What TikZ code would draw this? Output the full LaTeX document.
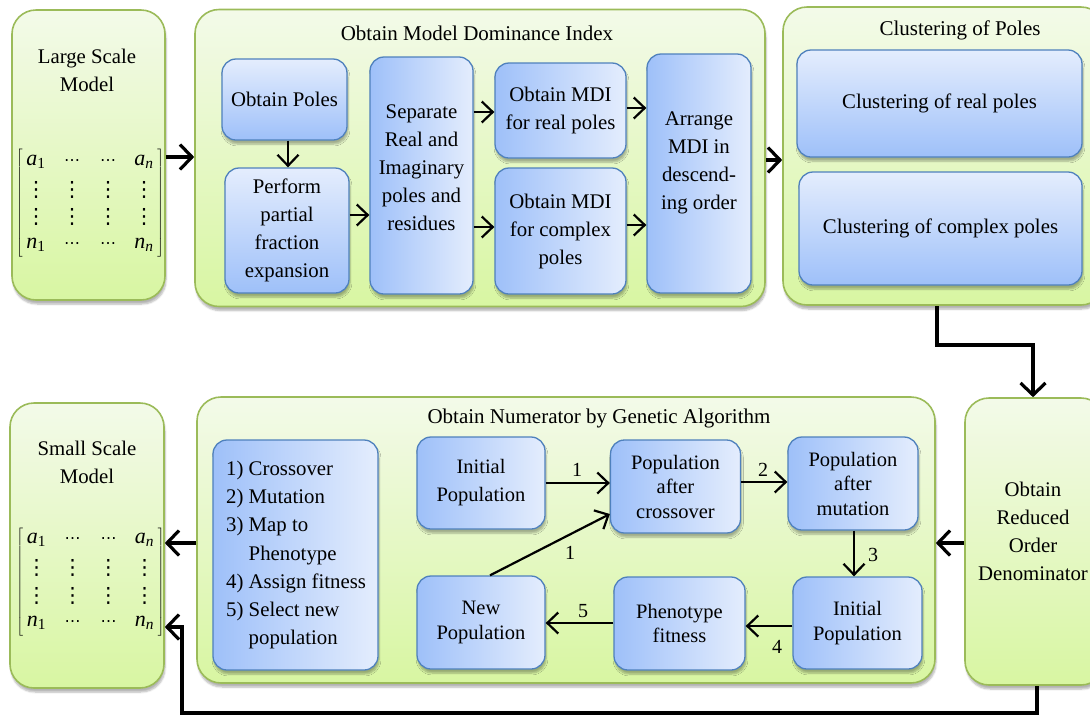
\documentclass[tikz,border=0pt]{standalone}
\usepackage{fontspec}
\setmainfont{Liberation Serif}
\newfontfamily\dejavu{DejaVu Sans}
\usetikzlibrary{arrows.meta,shadows.blur,matrix}
\definecolor{gborder}{RGB}{155,187,89}
\definecolor{gtop}{RGB}{243,250,233}
\definecolor{gbot}{RGB}{216,246,162}
\definecolor{bborder}{RGB}{79,129,189}
\definecolor{bdark}{RGB}{158,192,249}
\definecolor{blight}{RGB}{228,237,253}
\newcommand\vd{{\dejavu\fontsize{21}{21}\selectfont ⋮}}
\newcommand\hd{{\dejavu\fontsize{16}{16}\selectfont ⋯}}
\begin{document}
\begin{tikzpicture}[x=1pt,y=-1pt,
  txt/.style={font=\fontsize{20.8}{28}\selectfont, align=center},
  gatxt/.style={font=\fontsize{20.5}{24.5}\selectfont, align=center},
  shd/.style={blur shadow={shadow xshift=1pt, shadow yshift=-4pt, shadow blur steps=6, shadow opacity=30}},
  gbox/.style={draw=gborder, line width=1.6pt, rounded corners=24pt, top color=gtop, bottom color=gbot, shd, inner sep=0pt},
  bbox/.style={draw=bborder, line width=1.3pt, rounded corners=14pt, inner sep=2pt, txt, shd},
  bv/.style={bbox, top color=blight, bottom color=bdark},
  bh/.style={bbox, left color=bdark, right color=blight},
  thk/.style={line width=3.2pt, -{Straight Barb[length=12pt,width=25pt]}},
  thn/.style={line width=2.2pt, -{Straight Barb[length=11pt,width=21pt]}},
  lbl/.style={font=\fontsize{20}{24}\selectfont, inner sep=0pt},
  mat/.style={matrix of nodes, ampersand replacement=\&, left delimiter={[}, right delimiter={]},
    nodes={minimum width=24pt, minimum height=27.5pt, inner sep=0pt, font=\fontsize{22}{24}\selectfont},
    column sep=12pt, row sep=0pt, inner sep=0pt},
]
\useasboundingbox (0,0) rectangle (1090,716);

% ---------- top row ----------
\node[gbox, minimum width=153pt, minimum height=290pt] (lsm) at (88.5,155) {};
\node[txt] (lsmt) at (87,70) {Large Scale\\Model};
\matrix (lsmm) [mat] at (90,203.5) {
  \textit{a}\textsubscript{1} \& \hd \& \hd \& \textit{a}\textsubscript{\textit{n}} \\
  \vd \& \vd \& \vd \& \vd \\
  \vd \& \vd \& \vd \& \vd \\
  \textit{n}\textsubscript{1} \& \hd \& \hd \& \textit{n}\textsubscript{\textit{n}} \\
};

\node[gbox, minimum width=570pt, minimum height=297pt] (mdi) at (480,158) {};
\node[txt, font=\fontsize{21}{26}\selectfont] (mdit) at (477,33) {Obtain Model Dominance Index};
\node[bv, minimum width=125pt, minimum height=81pt] (poles) at (284.5,99.5) {Obtain Poles};
\node[bv, minimum width=124pt, minimum height=125pt] (pfe) at (287,230.5) {Perform\\partial\\fraction\\expansion};
\node[bh, minimum width=103pt, minimum height=237pt] (sep) at (421.5,175.5) {};
\node[txt] (sept) at (421.5,168) {Separate\\Real and\\Imaginary\\poles and\\residues};
\node[bh, minimum width=131pt, minimum height=95pt] (mdir) at (560.5,110.5) {Obtain MDI\\for real poles};
\node[bh, minimum width=131pt, minimum height=126pt] (mdic) at (560.5,231) {Obtain MDI\\for complex\\poles};
\node[bh, minimum width=104pt, minimum height=239pt] (arr) at (699,173.5) {};
\node[txt] (arrt) at (699,162.5) {Arrange\\MDI in\\descend-\\ing order};

\node[gbox, minimum width=322pt, minimum height=298pt] (cl) at (944,156) {};
\node[txt, font=\fontsize{21}{26}\selectfont] (clt) at (960,30) {Clustering of Poles};
\node[bv, minimum width=285pt, minimum height=107pt] (clr) at (939.5,103.5) {Clustering of real poles};
\node[bv, minimum width=283pt, minimum height=113pt] (clc) at (940.5,228.5) {Clustering of complex poles};

% ---------- bottom row ----------
\node[gbox, minimum width=154pt, minimum height=285pt] (ssm) at (87,545.5) {};
\node[txt] (ssmt) at (87,462) {Small Scale\\Model};
\matrix (ssmm) [mat] at (90.5,582) {
  \textit{a}\textsubscript{1} \& \hd \& \hd \& \textit{a}\textsubscript{\textit{n}} \\
  \vd \& \vd \& \vd \& \vd \\
  \vd \& \vd \& \vd \& \vd \\
  \textit{n}\textsubscript{1} \& \hd \& \hd \& \textit{n}\textsubscript{\textit{n}} \\
};

\node[gbox, minimum width=738pt, minimum height=286pt] (ga) at (566,540) {};
\node[txt, font=\fontsize{21}{26}\selectfont] (gat) at (599,418) {Obtain Numerator by Genetic Algorithm};
\node[bh, minimum width=165pt, minimum height=230pt] (list) at (295.5,555) {};
\node[txt, align=left, anchor=west, inner sep=0pt, font=\fontsize{20.8}{28.3}\selectfont] (listt) at (226,555)
  {1) Crossover\\2) Mutation\\3) Map to\\\hphantom{3) }Phenotype\\4) Assign fitness\\5) Select new\\\hphantom{5) }population};
\node[bh, gatxt, font=\fontsize{20.5}{28}\selectfont, minimum width=128pt, minimum height=92pt] (ip1) at (481,483) {Initial\\Population};
\node[bh, gatxt, minimum width=130pt, minimum height=93pt] (pac) at (675.5,486.5) {Population\\after\\crossover};
\node[bh, gatxt, minimum width=130pt, minimum height=93pt] (pam) at (853,483.5) {Population\\after\\mutation};
\node[bh, gatxt, minimum width=129pt, minimum height=92pt] (ip2) at (857.5,623) {Initial\\Population};
\node[bh, gatxt, minimum width=131pt, minimum height=93pt] (phf) at (679.5,623.5) {Phenotype\\fitness};
\node[bh, gatxt, minimum width=128pt, minimum height=93pt] (np) at (481,622.5) {New\\Population};

\node[gbox, minimum width=140pt, minimum height=287pt] (red) at (1035,541.5) {};
\node[txt] (redt) at (1033,531) {Obtain\\Reduced\\Order\\Denominator};

% ---------- connectors ----------
\draw[thk] (lsm.east |- 0,157) -- (mdi.west |- 0,157);
\draw[thn] (poles.south -| 288,0) -- (pfe.north -| 288,0);
\draw[thn] (pfe.east |- 0,215) -- (sep.west |- 0,215);
\draw[thn] (sep.east |- 0,112) -- (mdir.west |- 0,112);
\draw[thn] (sep.east |- 0,227) -- (mdic.west |- 0,227);
\draw[thn] (mdir.east |- 0,108) -- (arr.west |- 0,108);
\draw[thn] (mdic.east |- 0,225) -- (arr.west |- 0,225);
\draw[thk] (mdi.east |- 0,160) -- (cl.west |- 0,160);
\draw[thk] (cl.south -| 937,0) -- (937,345) -- (1033,345) -- (red.north -| 1033,0);
\draw[thk] (red.west |- 0,543) -- (ga.east |- 0,543);
\draw[thk] (ga.west |- 0,543) -- (ssm.east |- 0,543);
\draw[thk] (red.south -| 1037,0) -- (1037,713) -- (182,713) -- (182,627) -- (ssm.east |- 0,627);

\draw[thn] (ip1.east |- 0,483) -- (pac.west |- 0,483);
\draw[thn] (np.north -| 490,0) -- (pac.west |- 0,514);
\draw[thn] (pac.east |- 0,482) -- (pam.west |- 0,482);
\draw[thn] (pam.south -| 854,0) -- (ip2.north -| 854,0);
\draw[thn] (ip2.west |- 0,626) -- (phf.east |- 0,626);
\draw[thn] (phf.west |- 0,623) -- (np.east |- 0,623);

\node[lbl] (l1) at (577,470) {1};
\node[lbl] (l1b) at (570,553) {1};
\node[lbl] (l2) at (763,470) {2};
\node[lbl] (l3) at (873,555) {3};
\node[lbl] (l4) at (777,647) {4};
\node[lbl] (l5) at (583,611) {5};
\end{tikzpicture}
\end{document}
